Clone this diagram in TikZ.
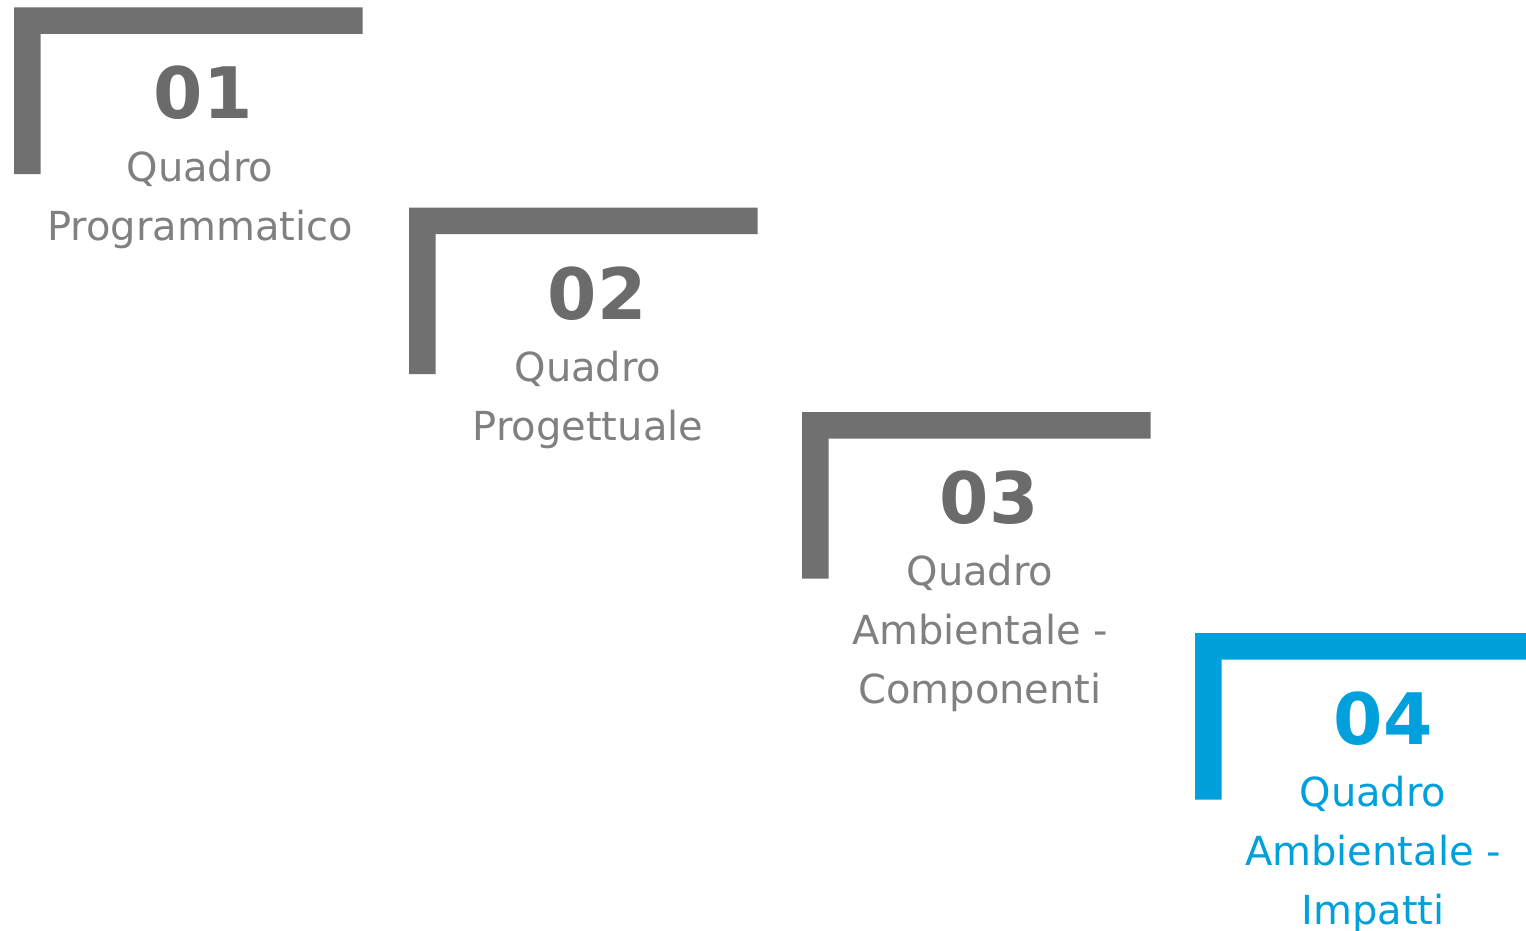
\documentclass[tikz,border=0pt]{standalone}
\usepackage{fontspec}
\setmainfont{DejaVu Sans}
\definecolor{bargray}{HTML}{707070}
\definecolor{numgray}{HTML}{6B6B6B}
\definecolor{txtgray}{HTML}{808080}
\definecolor{accent}{HTML}{00A0DC}
\tikzset{
  bar/.style={fill=#1, draw=none},
  numlbl/.style={anchor=base, inner sep=0pt, text=#1, font=\fontsize{71}{71}\selectfont\bfseries},
  steplbl/.style={anchor=base, inner sep=0pt, align=center, text=#1, font=\fontsize{40}{59}\selectfont},
}
\begin{document}
\begin{tikzpicture}[x=1pt,y=-1pt]
\useasboundingbox (0,0) rectangle (1526,931);
% bars
\fill[bar=bargray] (14,7.5) -- (362.5,7.5) -- (362.5,34) -- (40.5,34) -- (40.5,174) -- (14,174) -- cycle;
\fill[bar=bargray] (409,207.5) -- (757.5,207.5) -- (757.5,234) -- (435.5,234) -- (435.5,374) -- (409,374) -- cycle;
\fill[bar=bargray] (802,412) -- (1150.5,412) -- (1150.5,438.5) -- (828.5,438.5) -- (828.5,578.5) -- (802,578.5) -- cycle;
\fill[bar=accent] (1195,633) -- (1526,633) -- (1526,659.5) -- (1221.5,659.5) -- (1221.5,799.5) -- (1195,799.5) -- cycle;
% numbers
\node[numlbl=numgray] (n1) at (203,119) {01};
\node[numlbl=numgray] (n2) at (597,319) {02};
\node[numlbl=numgray] (n3) at (989,523) {03};
\node[numlbl=accent] (n4) at (1383,744) {04};
% texts (anchor base = baseline of last line)
\node[steplbl=txtgray] (t1) at (200,240) {Quadro\\Programmatico};
\node[steplbl=txtgray] (t2) at (588,440) {Quadro\\Progettuale};
\node[steplbl=txtgray] (t3) at (980,703) {Quadro\\Ambientale -\\Componenti};
\node[steplbl=accent] (t4) at (1373,924) {Quadro\\Ambientale -\\Impatti};
\end{tikzpicture}
\end{document}
